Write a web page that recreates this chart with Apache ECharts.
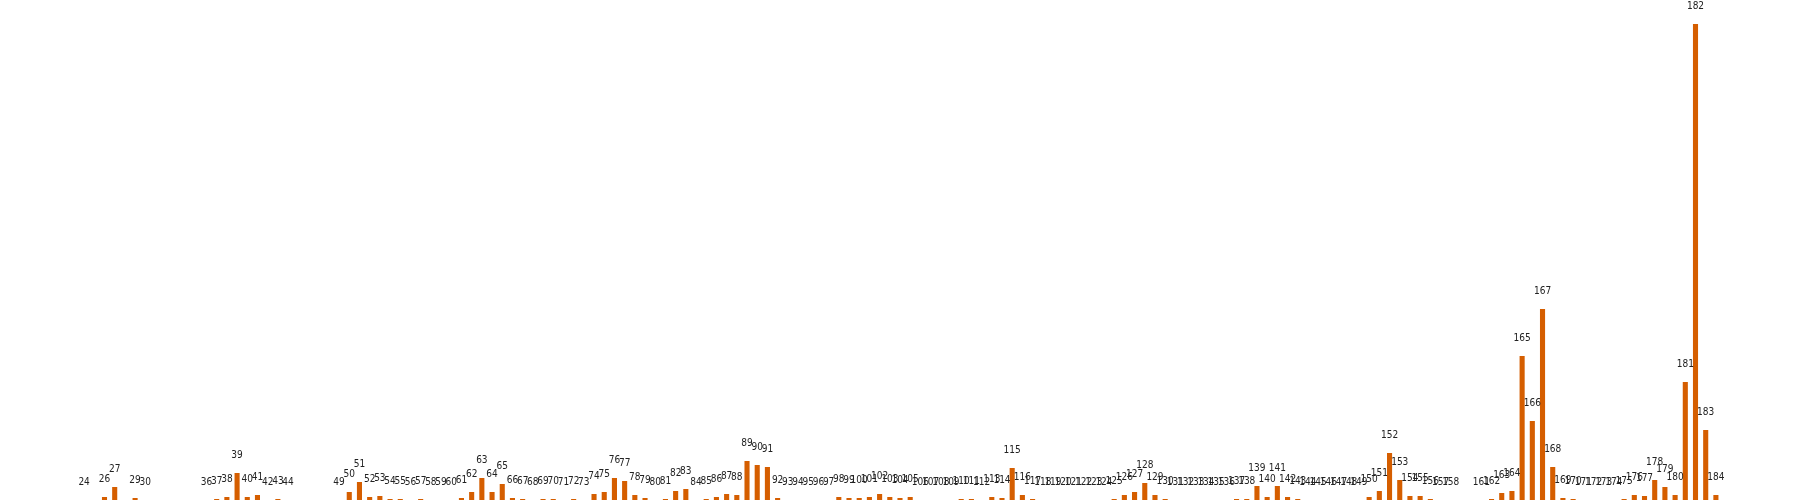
<!DOCTYPE html>
<html>
<head>
<meta charset="utf-8">
<script src="https://cdn.jsdelivr.net/npm/echarts@6/dist/echarts.min.js"></script>
<style>html,body{margin:0;padding:0;background:#fff}#c{width:1800px;height:500px}</style>
</head>
<body>
<div id="c"></div>
<script>
// categories 24..184 ; null = no entry
const firstCategory = 24;
const values = [
  // 24-33
  0, null, 3, 13, null, 2, 0, null, null, null,
  // 34-43
  null, null, 0, 1, 3, 27, 3, 5, 0, 1,
  // 44-53
  0, null, null, null, null, 0, 8, 18, 3, 4,
  // 54-63
  1, 1, 0, 1, 0, 0, 0, 2, 8, 22,
  // 64-73
  8, 16, 2, 1, 0, 1, 1, 0, 1, 0,
  // 74-83
  6, 8, 22, 19, 5, 2, 0, 1, 9, 11,
  // 84-93
  0, 1, 3, 6, 5, 39, 35, 33, 2, 0,
  // 94-103
  0, 0, 0, 0, 3, 2, 2, 3, 6, 3,
  // 104-113
  2, 3, 0, 0, 0, 0, 1, 1, 0, 3,
  // 114-123
  2, 32, 5, 1, 0, 0, 0, 0, 0, 0,
  // 124-133
  0, 1, 5, 8, 17, 5, 1, 0, 0, 0,
  // 134-143
  0, 0, 0, 1, 1, 14, 3, 14, 3, 1,
  // 144-153
  0, 0, 0, 0, 0, 0, 3, 9, 47, 20,
  // 154-163
  4, 4, 1, 0, 0, null, null, 0, 1, 7,
  // 164-173
  9, 144, 79, 191, 33, 2, 1, 0, 0, 0,
  // 174-184
  0, 1, 5, 4, 20, 13, 5, 118, 476, 70, 5
];
const categories = values.map((v, i) => String(firstCategory + i));

const chart = echarts.init(document.getElementById('c'), null, {renderer: 'canvas'});
chart.setOption({
  animation: false,
  grid: {left: 79, right: 79, top: 0, bottom: 0},
  xAxis: {
    type: 'category',
    data: categories,
    show: false
  },
  yAxis: {
    type: 'value',
    min: 0,
    max: 500,
    show: false
  },
  series: [{
    type: 'bar',
    data: values,
    barWidth: '50%',
    itemStyle: {color: '#D55E00'},
    label: {
      show: true,
      position: 'top',
      distance: 13,
      formatter: '{b}',
      color: '#222',
      fontSize: 10,
      fontFamily: '"Liberation Sans Narrow", "DejaVu Sans Condensed", sans-serif'
    }
  }]
});
</script>
</body>
</html>
